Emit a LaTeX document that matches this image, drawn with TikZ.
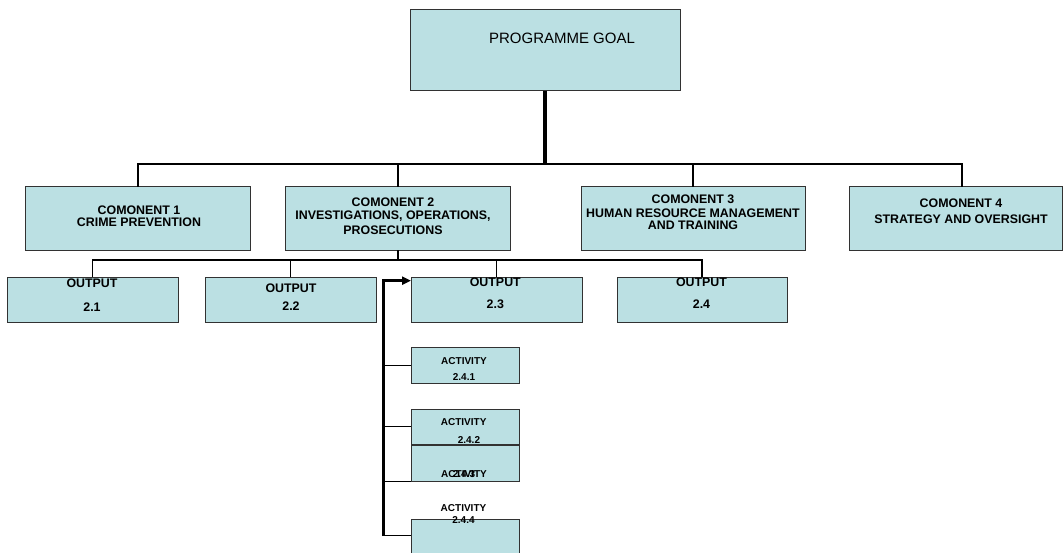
\documentclass[tikz,border=0pt]{standalone}
\usepackage{fontspec}
\setmainfont{Liberation Sans}
\usetikzlibrary{arrows.meta}
\definecolor{boxfill}{RGB}{187,224,227}
\definecolor{boxline}{RGB}{50,50,50}
\begin{document}
\begin{tikzpicture}[x=1pt,y=-1pt,
  box/.style={draw=boxline, fill=boxfill, line width=1pt, inner sep=0pt, outer sep=0pt},
  bigtxt/.style={font=\bfseries\fontsize{12.4}{12.4}\selectfont, align=center, inner sep=0pt, anchor=north},
  smalltxt/.style={font=\bfseries\fontsize{10}{10}\selectfont, align=center, inner sep=0pt, anchor=north},
  goaltxt/.style={font=\fontsize{15}{15}\selectfont, inner sep=0pt},
  thinln/.style={line width=1.3pt, black},
  thickln/.style={line width=2pt, black},
  goalln/.style={line width=3.3pt, black},
  spineln/.style={line width=2.6pt, black},
  branchln/.style={line width=1.5pt, black}]
\path[fill=white, use as bounding box] (0,0) rectangle (1063,552);

\coordinate (busy) at (0,164);
\coordinate (oby) at (0,260);

% boxes
\node[box, minimum width=270pt, minimum height=81.7pt] (goal) at (545,50) {};
\node[box, minimum width=224.3pt, minimum height=63.3pt] (comp1) at (137.85,218.35) {};
\node[box, minimum width=224.3pt, minimum height=63.3pt] (comp2) at (397.85,218.35) {};
\node[box, minimum width=224pt, minimum height=63.3pt] (comp3) at (693,218.35) {};
\node[box, minimum width=213.5pt, minimum height=63.3pt] (comp4) at (955.75,218.35) {};
\node[box, minimum width=170.7pt, minimum height=45pt] (out21) at (92.65,299.5) {};
\node[box, minimum width=171pt, minimum height=45pt] (out22) at (290.5,299.5) {};
\node[box, minimum width=171pt, minimum height=45pt] (out23) at (496.5,299.5) {};
\node[box, minimum width=170pt, minimum height=45pt] (out24) at (702,299.5) {};
\node[box, minimum width=108pt, minimum height=36pt] (act1) at (465,365.7) {};
\node[box, minimum width=108pt, minimum height=35pt] (act2) at (465,426.5) {};
\node[box, minimum width=108pt, minimum height=36.7pt] (act3) at (465,463.35) {};
\node[box, minimum width=108pt, minimum height=36.7pt] (act4) at (465,537.65) {};

% connectors
\coordinate (c4top) at ([xshift=6.25pt]comp4.north);
\draw[goalln] (goal.south) -- (goal.south |- busy);
\draw[thinln] (comp1.north) -- (comp1.north |- busy) -- (comp2.north |- busy);
\draw[thickln] (comp2.north |- busy) -- (comp3.north |- busy);
\draw[thinln] (comp3.north |- busy) -- (c4top |- busy) -- (c4top);
\draw[thinln] (comp2.north) -- (comp2.north |- busy);
\draw[thinln] (comp3.north) -- (comp3.north |- busy);

\draw[thickln] (comp2.south) -- (comp2.south |- oby);
\draw[thinln] (out21.north) -- (out21.north |- oby) -- (out24.north |- oby) -- (out24.north);
\draw[thinln] (out22.north) -- (out22.north |- oby);
\draw[thinln] (out23.north) -- (out23.north |- oby);

\coordinate (spinetop) at (383.3,280.7);
\coordinate (spinebot) at (383.3,536);
\draw[spineln, -{Triangle[length=9pt,width=8pt]}] (spinebot) -- (spinetop) -- (out23.west |- spinetop);
\draw[branchln] (spinetop |- act1.west) -- (act1.west);
\draw[branchln] (spinetop |- act2.west) -- (act2.west);
\draw[branchln] (spinetop |- act3.south west) -- (act3.south west);
\coordinate (a4in) at ([yshift=-16.4pt]act4.north west);
\draw[branchln] (spinetop |- a4in) -- (a4in);

% texts
\node[goaltxt] (goalt) at (562,38) {PROGRAMME GOAL};
\node[bigtxt] (c1t) at (139,205.5) {COMONENT 1\\[-0.7pt]CRIME PREVENTION};
\node[bigtxt] (c2t) at (393,197.2) {COMONENT 2\\[1.4pt]INVESTIGATIONS, OPERATIONS,\\[2.4pt]PROSECUTIONS};
\node[bigtxt] (c3t) at (693,194.9) {COMONENT 3\\[1.6pt]HUMAN RESOURCE MANAGEMENT\\[-0.4pt]AND TRAINING};
\node[bigtxt] (c4t) at (961,198.9) {COMONENT 4\\[3.6pt]STRATEGY AND OVERSIGHT};
\node[bigtxt] (o1t) at (92,278.3) {OUTPUT\\[11.6pt]2.1};
\node[bigtxt] (o2t) at (291,283.6) {OUTPUT\\[5.6pt]2.2};
\node[bigtxt] (o3t) at (495.3,277.9) {OUTPUT\\[9.6pt]2.3};
\node[bigtxt] (o4t) at (701.5,277.9) {OUTPUT\\[9.6pt]2.4};
\node[smalltxt] (a1t) at (464,357.4) {ACTIVITY\\[6pt]2.4.1};
\node[smalltxt] (a2t) at (466.3,418.1) {ACTIVITY\hspace*{5.3pt}\\[8.3pt]\hspace*{5.3pt}2.4.2};
\node[smalltxt] (a3t) at (464,470.8) {ACTIVITY\\[-10pt]2.4.3};
\node[smalltxt] (a4t) at (463.5,504.7) {ACTIVITY\\[1.7pt]2.4.4};
\end{tikzpicture}
\end{document}
